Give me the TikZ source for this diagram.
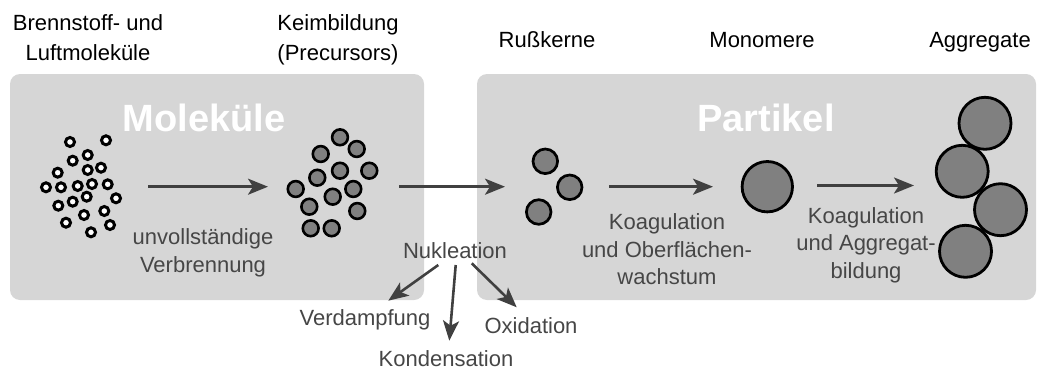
\documentclass[tikz,border=0pt]{standalone}
\usepackage{fontspec}
\setmainfont{Liberation Sans}
\usetikzlibrary{arrows.meta}
\definecolor{boxgray}{RGB}{214,214,214}
\definecolor{partgray}{RGB}{128,128,128}
\definecolor{arrgray}{RGB}{64,64,64}
\definecolor{labgray}{RGB}{70,70,70}
\tikzset{
  panel/.style={fill=boxgray, rounded corners=10pt},
  mol/.style={circle, draw=black, fill=white, line width=3pt, minimum size=9pt, inner sep=0pt},
  keim/.style={circle, draw=black, fill=partgray, line width=2.6pt, minimum size=15.8pt, inner sep=0pt},
  kern/.style={circle, draw=black, fill=partgray, line width=2.7pt, minimum size=24.6pt, inner sep=0pt},
  mono/.style={circle, draw=black, fill=partgray, line width=2.8pt, minimum size=50.4pt, inner sep=0pt},
  agg/.style={circle, draw=black, fill=partgray, line width=2.8pt, minimum size=52pt, inner sep=0pt},
  flow/.style={draw=arrgray, line width=2.6pt, -{Stealth[length=20pt,width=16pt,inset=5pt]}},
  toplab/.style={text=black, font=\fontsize{22}{29}\selectfont, align=center, inner sep=0pt, anchor=base},
  proclab/.style={text=labgray, font=\fontsize{22}{27.5}\selectfont, align=center, inner sep=0pt, anchor=base},
  title/.style={text=white, font=\fontsize{38}{40}\selectfont\bfseries, inner sep=0pt, anchor=base}
}
\begin{document}
\begin{tikzpicture}[x=1pt, y=-1pt]
\useasboundingbox (0,0) rectangle (1040,369);
% panels
\path[panel] (10,74) rectangle (424,300);
\path[panel] (477,74) rectangle (1036,300);
\node[title] (tmol) at (204,131.5) {Moleküle};
\node[title] (tpart) at (766,131.5) {Partikel};
% top labels (base = last line)
\node[toplab] (l1) at (88,60) {Brennstoff- und\\Luftmoleküle};
\node[toplab] (l2) at (338,60) {Keimbildung\\(Precursors)};
\node[toplab] (l3) at (547,48) {Rußkerne};
\node[toplab] (l4) at (762,48) {Monomere};
\node[toplab] (l5) at (980,48) {Aggregate};
% molecules
\foreach \x/\y [count=\i] in {70/142,106/140.3,87.7/155,72.7/160.7,87.7/170,101/167.7,57.7/172.7,46/187.3,61/187.3,77.7/186,92/184,107.7/184.3,86.7/196.7,116/198.3,58.3/205.7,72.7/201.7,104.3/211,84/215,66/222.7,110/225,91/232.3}
  \node[mol] (m\i) at (\x,\y) {};
% precursors
\foreach \x/\y [count=\i] in {340/137.3,356.7/149,320.7/154,340/170.7,369.3/170.7,317.3/177.7,295.7/189,353.3/189,332.7/196.7,309.3/206.7,357.3/211,310.7/228.3,331.7/228.3}
  \node[keim] (p\i) at (\x,\y) {};
% soot nuclei
\node[kern] (k1) at (545.3,161.3) {};
\node[kern] (k2) at (569.7,187.3) {};
\node[kern] (k3) at (538.7,212) {};
% monomer
\node[mono] (mono) at (767.3,186.7) {};
% aggregates
\node[agg] (a1) at (985,123.3) {};
\node[agg] (a2) at (962.2,171.3) {};
\node[agg] (a3) at (1000.5,209.7) {};
\node[agg] (a4) at (965.5,251.3) {};
% arrow end points
\coordinate (s1) at (148,186.7); \coordinate (e1) at (268,186.7);
\coordinate (s2) at (399,186.7); \coordinate (e2) at (505,186.7);
\coordinate (s3) at (609,186.7); \coordinate (e3) at (713,186.7);
\coordinate (s4) at (817,185.5); \coordinate (e4) at (914,185.5);
\draw[flow] (s1) -- (e1);
\draw[flow] (s2) -- (e2);
\draw[flow] (s3) -- (e3);
\draw[flow] (s4) -- (e4);
% process labels (base = last line)
\node[proclab] (pl1) at (203,272) {unvollständige\\Verbrennung};
\node[proclab] (pl2) at (667,284.5) {Koagulation\\und Oberflächen-\\wachstum};
\node[proclab] (pl3) at (866,278) {Koagulation\\und Aggregat-\\bildung};
\node[proclab] (nuk) at (455,258.5) {Nukleation};
\node[proclab] (verd) at (365,325) {Verdampfung};
\node[proclab] (kond) at (446,366) {Kondensation};
\node[proclab] (oxi) at (531,333) {Oxidation};
% nucleation arrows
\coordinate (n1) at (438.3,265); \coordinate (v1) at (388.3,300.7);
\coordinate (n2) at (455.7,265); \coordinate (v2) at (449.3,340.7);
\coordinate (n3) at (471.7,263.3); \coordinate (v3) at (516.7,307.3);
\draw[flow] (n1) -- (v1);
\draw[flow] (n2) -- (v2);
\draw[flow] (n3) -- (v3);
\end{tikzpicture}
\end{document}
